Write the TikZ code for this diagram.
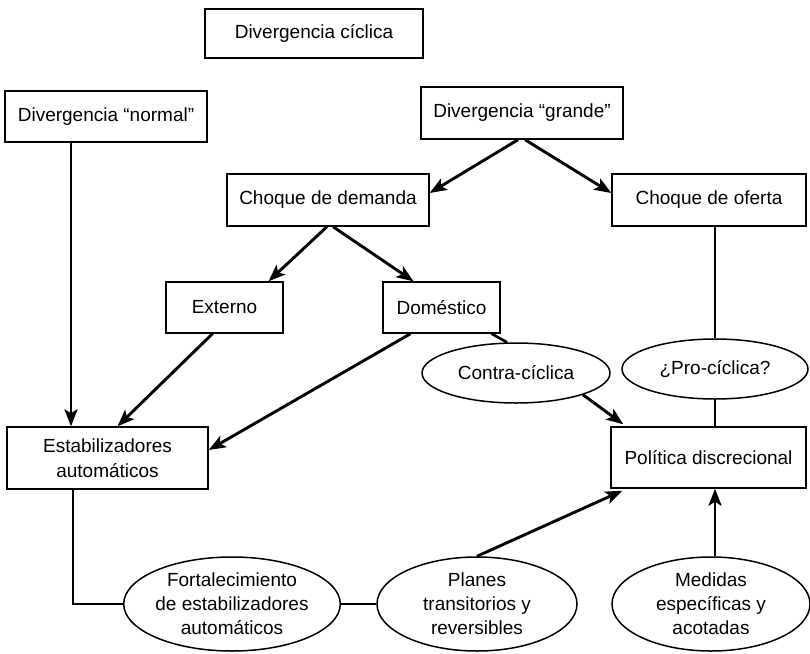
\documentclass[tikz,border=0pt]{standalone}
\usepackage{fontspec}
\setmainfont{Liberation Sans}
\usetikzlibrary{shapes.geometric,arrows.meta,calc}
\begin{document}
\begin{tikzpicture}[x=1pt,y=-1pt,
  every node/.style={font=\fontsize{19}{24}\selectfont},
  box/.style={draw,line width=1.4pt,rectangle,inner sep=0pt,align=center},
  oval/.style={draw,line width=1.5pt,ellipse,inner sep=0pt,align=center},
  arr/.style={line width=2.9pt,-{Stealth[length=17pt,width=13pt,inset=4pt]}},
  ln/.style={line width=2.6pt}]
\useasboundingbox (0,0) rectangle (810,653);
\node[box,line width=2pt,minimum width=218pt,minimum height=49pt] (title) at (314,33.5) {Divergencia cíclica};
\node[box,minimum width=202pt,minimum height=51pt] (dn) at (106,116.5) {Divergencia “normal”};
\node[box,minimum width=202pt,minimum height=52pt] (dgr) at (522,113) {Divergencia “grande”};
\node[box,minimum width=202pt,minimum height=52pt] (cd) at (328,200) {Choque de demanda};
\node[box,minimum width=194pt,minimum height=52pt] (co) at (709,200) {Choque de oferta};
\node[box,minimum width=117pt,minimum height=51pt] (ext) at (224.5,307.5) {Externo};
\node[box,minimum width=117pt,minimum height=51pt] (dom) at (441.5,307.5) {Doméstico};
\node[oval,minimum width=188pt,minimum height=60pt] (cc) at (516,373) {Contra-cíclica};
\node[oval,minimum width=186pt,minimum height=60pt] (pc) at (715,369) {¿Pro-cíclica?};
\node[box,minimum width=201pt,minimum height=62pt,font=\fontsize{19}{25}\selectfont] (est) at (107.5,458) {Estabilizadores\\automáticos};
\node[box,minimum width=195pt,minimum height=61pt] (pd) at (708.5,457.5) {Política discrecional};
\node[oval,minimum width=200pt,minimum height=94pt] (fort) at (232,604) {Fortalecimiento\\de estabilizadores\\automáticos};
\node[oval,minimum width=200pt,minimum height=94pt] (plan) at (477,604) {Planes\\transitorios y\\reversibles};
\node[oval,minimum width=198pt,minimum height=94pt] (med) at (711,604) {Medidas\\específicas y\\acotadas};
% connectors
\draw[arr] ([xshift=-35pt]dn.south) -- ([xshift=-35pt]dn.south |- est.north);
\draw[arr] ([xshift=-4pt]dgr.south) -- ([yshift=7pt]cd.east);
\draw[arr] ([xshift=3pt]dgr.south) -- ([yshift=7pt]co.west);
\draw[arr] ([xshift=-1pt]cd.south) -- ([xshift=44pt]ext.north);
\draw[arr] ([xshift=5pt]cd.south) -- ([xshift=-28pt]dom.north);
\draw[arr] ([xshift=-12pt]ext.south) -- ([xshift=10pt]est.north);
\draw[arr] ([xshift=-31pt]dom.south) -- ([yshift=8pt]est.east);
\draw[ln] ([xshift=50pt]dom.south) -- ([xshift=-9pt]cc.north);
\draw[arr] (cc.-18) -- ([xshift=13pt,yshift=2pt]pd.north west);
\draw[ln] ([xshift=6pt]co.south) -- (pc.north);
\draw[ln] (pc.south) -- (pc.south |- pd.north);
\draw[ln] ([xshift=-34.5pt]est.south) |- (fort.west);
\draw[ln] (fort.east) -- (plan.west);
\draw[arr] (plan.north) -- ([xshift=12pt,yshift=-2pt]pd.south west);
\draw[arr] ([xshift=4pt]med.north) -- ([xshift=4pt]med.north |- pd.south);
\end{tikzpicture}
\end{document}
